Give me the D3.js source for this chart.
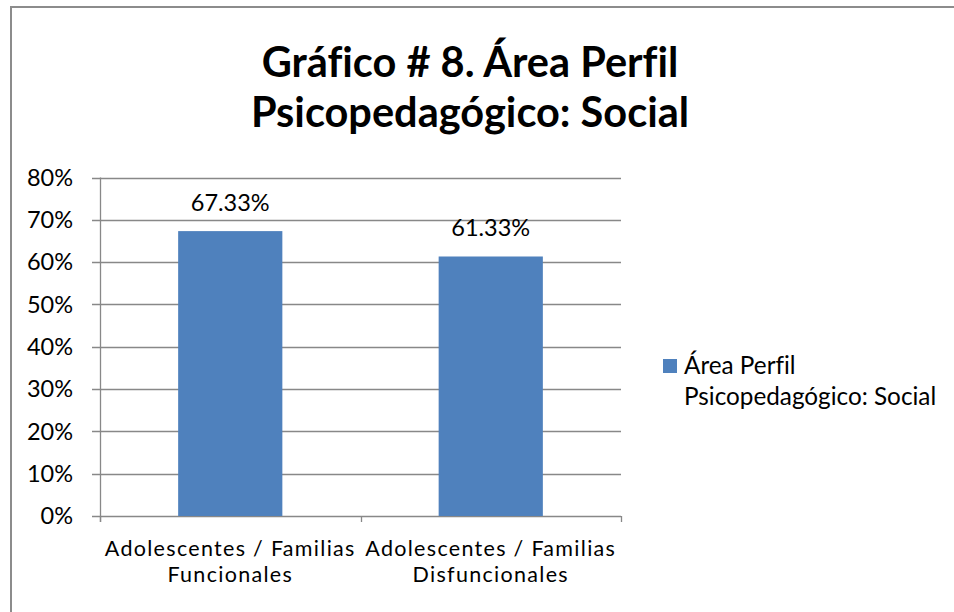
<!DOCTYPE html>
<html>
<head>
<meta charset="utf-8">
<script src="https://cdn.jsdelivr.net/npm/d3@7"></script>
<style>
    body { margin: 0; background: #fff; }
    svg { display: block; font-family: Lato, "Open Sans", sans-serif; font-variant-ligatures: none; }
</style>
</head>
<body>
<div id="app"></div>
<script>
"use strict";

const categories = [
    ["Adolescentes / Familias", "Funcionales"],
    ["Adolescentes / Familias", "Disfuncionales"]
];
const values = [67.33, 61.33];
const valueLabels = ["67.33%", "61.33%"];
const yTicks = [0, 10, 20, 30, 40, 50, 60, 70, 80];
const titleLines = ["Gráfico # 8. Área Perfil", "Psicopedagógico: Social"];
const legendLines = ["Área Perfil", "Psicopedagógico: Social"];

const W = 954, H = 612;
const barColor = "#4F81BD";
const gridColor = "#888";
const fs = 23.5;

const svg = d3.select("#app").append("svg")
    .attr("width", W)
    .attr("height", H);

// outer frame (right/bottom sides cut off like the reference)
svg.append("rect")
    .attr("x", 11).attr("y", 7)
    .attr("width", W).attr("height", H)
    .attr("fill", "none")
    .attr("stroke", "#8c8c8c")
    .attr("stroke-width", 2);

// title
svg.append("g")
    .selectAll("text")
    .data(titleLines)
    .enter()
    .append("text")
    .attr("text-anchor", "middle")
    .attr("font-weight", "bold")
    .attr("font-size", 41.5)
    .attr("fill", "#000")
    .attr("x", 470)
    .attr("y", (d, i) => 77 + i * 50)
    .text(d => d);

const x = d3.scaleBand()
    .domain(d3.range(categories.length))
    .range([100, 621])
    .paddingInner(0.6)
    .paddingOuter(0.3);

const y = d3.scaleLinear()
    .domain([0, 80])
    .range([516, 177.5]);

// gridlines
svg.append("g")
    .selectAll("line")
    .data(yTicks)
    .enter()
    .append("line")
    .attr("x1", 92).attr("x2", 621)
    .attr("y1", d => Math.round(y(d)) + 0.5)
    .attr("y2", d => Math.round(y(d)) + 0.5)
    .attr("stroke", gridColor)
    .attr("stroke-width", 1.3);

// y axis labels
svg.append("g")
    .selectAll("text")
    .data(yTicks)
    .enter()
    .append("text")
    .attr("x", 73)
    .attr("y", d => y(d))
    .attr("dy", "0.35em")
    .attr("text-anchor", "end")
    .attr("font-size", fs)
    .attr("fill", "#000")
    .text(d => d + "%");

// bars
svg.append("g")
    .selectAll("rect")
    .data(values)
    .enter()
    .append("rect")
    .attr("x", (d, i) => x(i))
    .attr("y", d => y(d))
    .attr("width", x.bandwidth())
    .attr("height", d => y(0) - y(d))
    .attr("fill", barColor);

// value labels
svg.append("g")
    .selectAll("text")
    .data(values)
    .enter()
    .append("text")
    .attr("x", (d, i) => x(i) + x.bandwidth() / 2)
    .attr("y", d => y(d) - 20)
    .attr("text-anchor", "middle")
    .attr("font-size", fs)
    .attr("fill", "#000")
    .text((d, i) => valueLabels[i]);

// y axis line
svg.append("line")
    .attr("x1", 100.5).attr("x2", 100.5)
    .attr("y1", y(80)).attr("y2", 522)
    .attr("stroke", gridColor).attr("stroke-width", 1.3);

// category boundary ticks
svg.append("g")
    .selectAll("line")
    .data(d3.range(categories.length + 1))
    .enter()
    .append("line")
    .attr("x1", i => Math.round(x.range()[0] + i * x.step()) + 0.5)
    .attr("x2", i => Math.round(x.range()[0] + i * x.step()) + 0.5)
    .attr("y1", y(0)).attr("y2", 522)
    .attr("stroke", gridColor).attr("stroke-width", 1.3);

// category labels (one text per line)
let catLines = [];
categories.forEach((lines, i) => lines.forEach((t, j) => catLines.push({ t, i, j })));

svg.append("g")
    .selectAll("text")
    .data(catLines)
    .enter()
    .append("text")
    .attr("text-anchor", "middle")
    .attr("font-size", 21.5)
    .attr("letter-spacing", 1.3)
    .attr("fill", "#000")
    .attr("x", d => x(d.i) + x.bandwidth() / 2)
    .attr("y", d => 556 + d.j * 26)
    .text(d => d.t);

// legend
svg.append("rect")
    .attr("x", 663).attr("y", 359)
    .attr("width", 14).attr("height", 14)
    .attr("fill", barColor);

svg.append("g")
    .selectAll("text")
    .data(legendLines)
    .enter()
    .append("text")
    .attr("font-size", 24.3)
    .attr("fill", "#000")
    .attr("x", 684)
    .attr("y", (d, i) => 374 + i * 31)
    .text(d => d);
</script>
</body>
</html>
